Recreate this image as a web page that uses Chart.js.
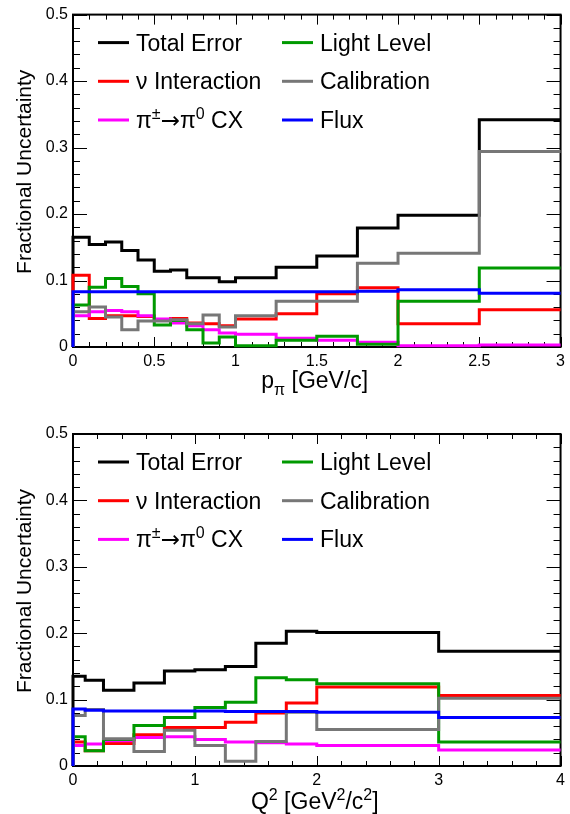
<!DOCTYPE html>
<html>
<head>
<meta charset="utf-8">
<script src="https://cdn.jsdelivr.net/npm/chart.js@4"></script>
<style>
  body { margin: 0; background: #fff; }
  canvas { display: block; }
</style>
</head>
<body>
<canvas id="pionChart" width="570" height="407"></canvas>
<canvas id="q2Chart" width="570" height="407"></canvas>
<script>
// bin edges + values
const pEdges = [0, 0.1, 0.2, 0.3, 0.4, 0.5, 0.6, 0.7, 0.8, 0.9, 1.0, 1.25, 1.5, 1.75, 2, 2.5, 3];
const pTotal = [0.165, 0.154, 0.158, 0.145, 0.131, 0.114, 0.116, 0.104, 0.104, 0.098, 0.104, 0.120, 0.137, 0.179, 0.198, 0.342];
const pNuInt = [0.108, 0.043, 0.047, 0.047, 0.046, 0.041, 0.043, 0.036, 0.035, 0.032, 0.042, 0.050, 0.080, 0.089, 0.035, 0.056];
const pChEx  = [0.047, 0.053, 0.055, 0.053, 0.047, 0.042, 0.036, 0.032, 0.026, 0.021, 0.019, 0.013, 0.010, 0.007, 0.002, 0.003];
const pLight = [0.063, 0.090, 0.103, 0.091, 0.080, 0.033, 0.040, 0.026, 0.006, 0.015, 0.002, 0.010, 0.016, 0.004, 0.069, 0.119];
const pCalib = [0.053, 0.060, 0.045, 0.026, 0.039, 0.039, 0.041, 0.035, 0.048, 0.030, 0.047, 0.069, 0.069, 0.126, 0.141, 0.294];
const pFlux  = [0.083, 0.083, 0.083, 0.083, 0.083, 0.083, 0.083, 0.083, 0.083, 0.083, 0.083, 0.083, 0.083, 0.084, 0.086, 0.081];

const qEdges = [0, 0.1, 0.25, 0.5, 0.75, 1, 1.25, 1.5, 1.75, 2, 3, 4];
const qTotal = [0.135, 0.129, 0.114, 0.125, 0.143, 0.145, 0.150, 0.185, 0.203, 0.201, 0.173];
const qNuInt = [0.036, 0.023, 0.034, 0.047, 0.058, 0.058, 0.066, 0.080, 0.095, 0.119, 0.106];
const qChEx  = [0.031, 0.033, 0.038, 0.043, 0.044, 0.040, 0.036, 0.035, 0.033, 0.031, 0.024];
const qLight = [0.044, 0.023, 0.040, 0.061, 0.073, 0.088, 0.096, 0.133, 0.130, 0.124, 0.036];
const qCalib = [0.076, 0.085, 0.041, 0.022, 0.054, 0.031, 0.007, 0.037, 0.081, 0.055, 0.102];
const qFlux  = [0.086, 0.084, 0.083, 0.083, 0.083, 0.083, 0.082, 0.082, 0.082, 0.081, 0.073];

// ^{} = superscript, _{} = subscript, @{} = drawn with DejaVu (longer arrow)
const seriesLabels = ["Total Error", "ν Interaction", "π^{±}@{→}π^{0} CX", "Light Level", "Calibration", "Flux"];
const seriesColors = ["#000000", "#ff0000", "#ff00ff", "#009900", "#777777", "#0000ff"];
const seriesOrder = [5, 4, 3, 2, 1, 0];

const yTicks = [0, 0.1, 0.2, 0.3, 0.4, 0.5];
const FONT = "'Liberation Sans', Arial, Helvetica, sans-serif";

// histogram outline: start at 0 on the first edge, step through the bins
function histPoints(edges, values) {
  let pts = [{ x: edges[0], y: 0 }];
  values.forEach((v, i) => pts.push({ x: edges[i], y: v }));
  pts.push({ x: edges[edges.length - 1], y: values[values.length - 1] });
  return pts;
}

function richParts(str) {
  let parts = [];
  let re = /([\^_@])\{([^}]*)\}|([^\^_@]+)/g;
  let m;
  while ((m = re.exec(str)) !== null) {
    if (m[3]) parts.push({ t: m[3], k: "n" });
    else parts.push({ t: m[2], k: m[1] === "^" ? "sup" : m[1] === "_" ? "sub" : "alt" });
  }
  return parts;
}

function partFont(p, size) {
  if (p.k === "alt") return size + "px 'DejaVu Sans', sans-serif";
  return (p.k === "n" ? size : Math.round(size * 0.68)) + "px " + FONT;
}

function drawRich(ctx, str, x, y, size, align) {
  let parts = richParts(str);
  let w = 0;
  parts.forEach(p => {
    ctx.font = partFont(p, size);
    p.w = ctx.measureText(p.t).width;
    w += p.w;
  });
  let cx = align === "center" ? x - w / 2 : x;
  ctx.textAlign = "left";
  ctx.textBaseline = "alphabetic";
  parts.forEach(p => {
    let dy = p.k === "sup" ? -size * 0.4 : p.k === "sub" ? size * 0.3 : 0;
    ctx.font = partFont(p, size);
    ctx.fillText(p.t, cx, y + dy);
    cx += p.w;
  });
}

function minorTicks(major, nSub) {
  let out = [];
  for (let i = 0; i < major.length - 1; i++) {
    let step = (major[i + 1] - major[i]) / nSub;
    for (let j = 1; j < nSub; j++) out.push(major[i] + j * step);
  }
  return out;
}

// ROOT-style frame: inward ticks on all sides, axis titles, legend
const rootFrame = {
  id: "rootFrame",
  beforeDatasetsDraw(chart, args, opts) {
    const ctx = chart.ctx;
    const a = chart.chartArea;
    const xs = chart.scales.x, ys = chart.scales.y;
    ctx.save();
    ctx.strokeStyle = "#000";
    ctx.lineWidth = 1;
    let xMaj = xs.ticks.map(t => t.value);
    let yMaj = ys.ticks.map(t => t.value);
    ctx.beginPath();
    xMaj.forEach(v => {
      let px = Math.round(xs.getPixelForValue(v)) + 0.5;
      ctx.moveTo(px, a.bottom); ctx.lineTo(px, a.bottom - 10);
      ctx.moveTo(px, a.top); ctx.lineTo(px, a.top + 10);
    });
    minorTicks(xMaj, 5).forEach(v => {
      let px = Math.round(xs.getPixelForValue(v)) + 0.5;
      ctx.moveTo(px, a.bottom); ctx.lineTo(px, a.bottom - 5);
      ctx.moveTo(px, a.top); ctx.lineTo(px, a.top + 5);
    });
    yMaj.forEach(v => {
      let py = Math.round(ys.getPixelForValue(v)) + 0.5;
      ctx.moveTo(a.left, py); ctx.lineTo(a.left + 14, py);
      ctx.moveTo(a.right, py); ctx.lineTo(a.right - 14, py);
    });
    minorTicks(yMaj, 5).forEach(v => {
      let py = Math.round(ys.getPixelForValue(v)) + 0.5;
      ctx.moveTo(a.left, py); ctx.lineTo(a.left + 7, py);
      ctx.moveTo(a.right, py); ctx.lineTo(a.right - 7, py);
    });
    ctx.stroke();
    ctx.lineWidth = 2;
    ctx.strokeRect(a.left, a.top, a.right - a.left, a.bottom - a.top);

    // axis titles
    ctx.fillStyle = "#000";
    drawRich(ctx, opts.xTitle, (a.left + a.right) / 2 - 2, a.bottom + opts.xTitleOffset, 23, "center");
    ctx.translate(31, (a.top + a.bottom) / 2 - 9);
    ctx.rotate(-Math.PI / 2);
    ctx.font = "21px " + FONT;
    ctx.textAlign = "center";
    ctx.textBaseline = "alphabetic";
    ctx.fillText("Fractional Uncertainty", 0, 0);
    ctx.restore();
  },
  afterDraw(chart) {
    const ctx = chart.ctx;
    const a = chart.chartArea;
    ctx.save();
    seriesLabels.forEach((lab, i) => {
      let col = i < 3 ? 0 : 1;
      let row = i % 3;
      let lx = a.left + (col === 0 ? 25 : 209);
      let ly = a.top + 28 + row * 38.7;
      ctx.strokeStyle = seriesColors[i];
      ctx.lineWidth = 3;
      ctx.beginPath();
      ctx.moveTo(lx, ly); ctx.lineTo(lx + 31, ly);
      ctx.stroke();
      ctx.fillStyle = "#000";
      drawRich(ctx, lab, lx + 38, ly + 8, 23, "left");
    });
    ctx.restore();
  }
};

function fmt(v) {
  return String(+Number(v).toFixed(2));
}

function makeChart(id, edges, series, xMax, xStep, xTitle, opts) {
  const ctx = document.getElementById(id).getContext("2d");
  return new Chart(ctx, {
    type: "line",
    data: {
      datasets: series.map((vals, i) => ({
        label: seriesLabels[i],
        data: histPoints(edges, vals),
        borderColor: seriesColors[i],
        backgroundColor: seriesColors[i],
        borderWidth: 3,
        pointRadius: 0,
        stepped: true,
        fill: false,
        clip: false,
        order: seriesOrder[i],
      })),
    },
    options: {
      responsive: false,
      animation: false,
      devicePixelRatio: 1,
      layout: { padding: { top: opts.top, right: 8, left: 0, bottom: 0 } },
      scales: {
        x: {
          type: "linear",
          min: 0,
          max: xMax,
          grid: { display: false, drawTicks: false, tickLength: 0 },
          border: { display: false },
          ticks: {
            stepSize: xStep,
            autoSkip: false,
            maxRotation: 0,
            padding: 5,
            color: "#000",
            font: { family: FONT, size: 16 },
            callback: v => fmt(v),
          },
          afterFit: s => { s.height = opts.xHeight; },
        },
        y: {
          min: 0,
          max: 0.5,
          grid: { display: false, drawTicks: false, tickLength: 0 },
          border: { display: false },
          afterBuildTicks: s => { s.ticks = yTicks.map(v => ({ value: v })); },
          ticks: {
            padding: 5,
            color: "#000",
            font: { family: FONT, size: 16 },
            callback: v => fmt(v),
          },
          afterFit: s => { s.width = 73; },
        },
      },
      plugins: {
        legend: { display: false },
        tooltip: { enabled: false },
        rootFrame: { xTitle: xTitle, xTitleOffset: opts.titleOffset },
      },
    },
    plugins: [rootFrame],
  });
}

makeChart("pionChart", pEdges, [pTotal, pNuInt, pChEx, pLight, pCalib, pFlux], 3, 0.5,
  "p_{π} [GeV/c]", { top: 14, xHeight: 60, titleOffset: 41 });
makeChart("q2Chart", qEdges, [qTotal, qNuInt, qChEx, qLight, qCalib, qFlux], 4, 1,
  "Q^{2} [GeV^{2}/c^{2}]", { top: 27, xHeight: 48, titleOffset: 43 });
</script>
</body>
</html>
